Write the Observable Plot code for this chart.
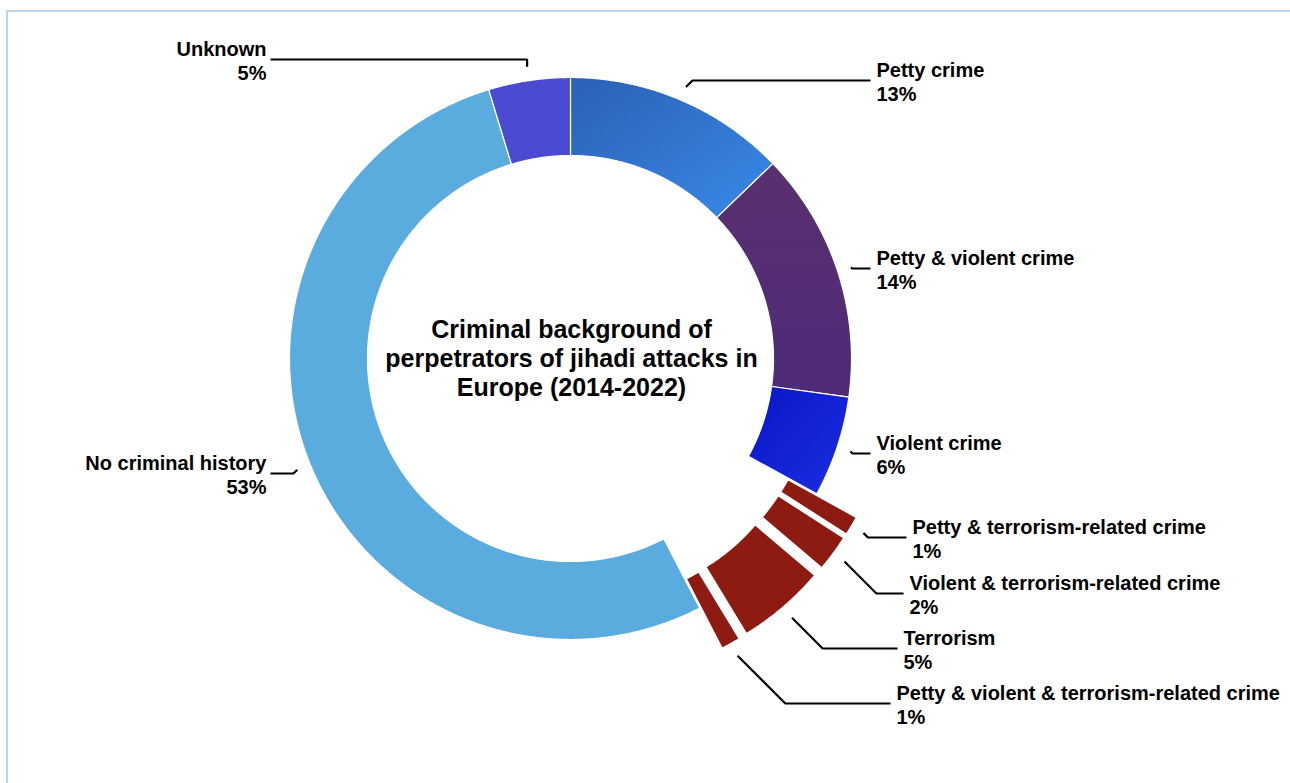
<!DOCTYPE html>
<html><head><meta charset="utf-8">
<script src="https://cdn.jsdelivr.net/npm/d3@7"></script>
<script src="https://cdn.jsdelivr.net/npm/@observablehq/plot@0.6"></script>
<style>
html,body{margin:0;padding:0;background:#fff;overflow:hidden;width:1290px;height:783px}
#frame{position:absolute;left:6px;top:10px;width:1400px;height:900px;border-left:2px solid #bcd6f1;border-top:2px solid #bcd6f1;}
#chart{position:absolute;left:0;top:0}
</style></head><body><div id="frame"></div><div id="chart"></div>
<script>
// ---- data (clockwise from 12 o'clock) ----
const categories = [
  "Petty crime",
  "Petty & violent crime",
  "Violent crime",
  "Petty & terrorism-related crime",
  "Violent & terrorism-related crime",
  "Terrorism",
  "Petty & violent & terrorism-related crime",
  "No criminal history",
  "Unknown"
];
const values = [12.8, 14.4, 5.8, 1.1, 2.1, 5.1, 1.1, 52.9, 4.7];
const percentLabels = ["13%", "14%", "6%", "1%", "2%", "5%", "1%", "53%", "5%"];
const titleLines = ["Criminal background of", "perpetrators of jihadi attacks in", "Europe (2014-2022)"];

// ---- styles / layout ----
const colors = ["url(#gPetty)", "url(#gPV)", "url(#gViolent)", "#8e1b12", "#8e1b12", "#8e1b12", "#8e1b12", "#5aacdf", "#4a4bd0"];
const explode = [0, 0, 0, 46, 46, 46, 46, 0, 0];
const labelPos = [ // [side, x, y of first line centre, kink] in page px
  ["right", 876, 70, "diag"], ["right", 876, 258, "diag"], ["right", 876, 443, "diag"],
  ["right", 912, 527, "diag"], ["right", 909, 583, "diag"], ["right", 903, 638, "diag"],
  ["right", 896, 693, "diag"], ["left", 266, 463, "diag"], ["left", 266, 49, "vert"]
];
const W = 1290, H = 783, CX = 570, CY = 358, R_OUT = 281, R_IN = 203;

// ---- geometry ----
const total = d3.sum(values);
let acc = 0;
const slices = categories.map((c, i) => {
  const a0 = acc / total * 2 * Math.PI; acc += values[i];
  const a1 = acc / total * 2 * Math.PI;
  const mid = (a0 + a1) / 2;
  return {c, i, a0, a1, mid, ox: explode[i] * Math.sin(mid), oy: -explode[i] * Math.cos(mid)};
});
const arcPts = [];
for (const s of slices) {
  const n = Math.max(2, Math.ceil((s.a1 - s.a0) / (Math.PI / 720)));
  const ring = [];
  for (let k = 0; k <= n; k++) { const a = s.a0 + (s.a1 - s.a0) * k / n; ring.push([R_OUT, a]); }
  for (let k = n; k >= 0; k--) { const a = s.a0 + (s.a1 - s.a0) * k / n; ring.push([R_IN, a]); }
  for (const [r, a] of ring) arcPts.push({c: s.c, fill: colors[s.i], x: s.ox + r * Math.sin(a), y: s.oy - r * Math.cos(a)});
}

// leaders
const leaderPts = [];
const labelRows = [];
slices.forEach(s => {
  const [side, lx, ly, kink] = labelPos[s.i];
  const rr = R_OUT + explode[s.i] + 14;
  const sx = rr * Math.sin(s.mid), sy = -rr * Math.cos(s.mid);
  const yl = ly - CY + 10;
  const dir = side === "right" ? 1 : -1;
  const ex = side === "right" ? lx - CX - 6 : lx - CX + 4;
  const bx = kink === "vert" ? sx : sx + dir * Math.abs(yl - sy);
  leaderPts.push({c: s.c, x: sx, y: sy}, {c: s.c, x: bx, y: yl}, {c: s.c, x: ex, y: yl});
  labelRows.push({side, x: lx - CX, y: ly - CY, t: s.c});
  labelRows.push({side, x: lx - CX, y: ly - CY + 24, t: percentLabels[s.i]});
});
const titleRows = titleLines.map((t, k) => ({t, x: 1, y: (k - 1) * 29}));

const font = "'Liberation Sans', Arial, Helvetica, sans-serif";
const chart = Plot.plot({
  width: W, height: H,
  margin: 0,
  x: {domain: [-CX, W - CX], range: [0, W], axis: null},
  y: {domain: [-CY, H - CY], range: [0, H], axis: null},
  color: {type: "identity"},
  style: {fontFamily: font, background: "transparent", overflow: "visible"},
  marks: [
    Plot.line(arcPts, {x: "x", y: "y", z: "c", fill: "fill", stroke: "white", strokeWidth: 1.2, curve: "linear-closed"}),
    Plot.line(leaderPts, {x: "x", y: "y", z: "c", stroke: "black", strokeWidth: 2.2, strokeLinecap: "butt", strokeLinejoin: "miter", curve: "linear"}),
    Plot.text(labelRows.filter(d => d.side === "right"), {x: "x", y: "y", text: "t", textAnchor: "start", fontSize: 20, fontWeight: "bold", fill: "black"}),
    Plot.text(labelRows.filter(d => d.side === "left"), {x: "x", y: "y", text: "t", textAnchor: "end", fontSize: 20, fontWeight: "bold", fill: "black"}),
    Plot.text(titleRows, {x: "x", y: "y", text: "t", textAnchor: "middle", fontSize: 25, fontWeight: "bold", fill: "black"})
  ]
});
// gradient definitions used by the slice fills
const defs = d3.select(chart).insert("defs", ":first-child");
function grad(id, x1, y1, x2, y2, stops) {
  const g = defs.append("linearGradient").attr("id", id).attr("x1", x1).attr("y1", y1).attr("x2", x2).attr("y2", y2);
  stops.forEach(([o, c]) => g.append("stop").attr("offset", o).attr("stop-color", c));
}
grad("gPetty", 0, 0, 1, 1, [[0, "#2a60b6"], [1, "#3a8ae8"]]);
grad("gPV", 0, 0, 0, 1, [[0, "#59306f"], [1, "#4e2a78"]]);
grad("gViolent", 0, 0, 1, 1, [[0, "#0a16c6"], [1, "#1a2ee2"]]);
document.getElementById("chart").appendChild(chart);
</script></body></html>
